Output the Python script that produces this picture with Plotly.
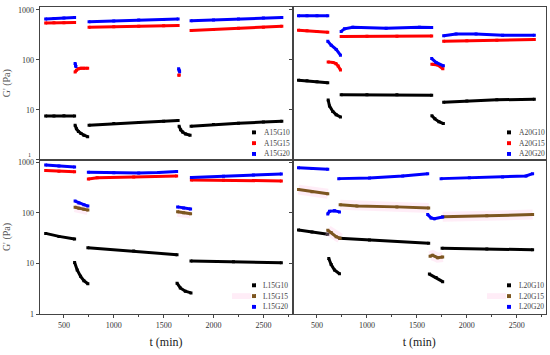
import plotly.graph_objects as go

# ---------------- data (t in min, G' in Pa); None separates test segments ----------------
A15G10_t = [317, 400, 500, 607, None, 612, 625, 645, 670, 700, 738, None, 752, 1000, 1250, 1500, 1645, None, 1655, 1670, 1690, 1720, 1765, None, 1775, 2000, 2250, 2500, 2685]
A15G10 = [7.5, 7.5, 7.6, 7.5, None, 4.9, 4.2, 3.7, 3.35, 3.1, 2.9, None, 4.9, 5.3, 5.6, 5.9, 6.1, None, 4.7, 4.0, 3.6, 3.3, 3.1, None, 4.7, 5.1, 5.4, 5.7, 5.9]
A15G15_t = [317, 400, 500, 607, None, 612, 625, 645, 670, 700, 738, None, 752, 1000, 1250, 1500, 1645, None, 1652, 1656, None, 1775, 2000, 2250, 2500, 2685]
A15G15 = [545, 550, 555, 560, None, 57, 62, 66, 68, 68, 68, None, 450, 460, 470, 480, 487, None, 49, 50, None, 385, 405, 430, 450, 470]
A15G20_t = [317, 400, 500, 607, None, 612, 616, 620, None, 752, 1000, 1250, 1500, 1645, None, 1650, 1655, 1660, None, 1775, 2000, 2250, 2500, 2685]
A15G20 = [660, 675, 690, 700, None, 85, 78, 74, None, 575, 600, 625, 645, 660, None, 66, 62, 58, None, 605, 630, 655, 685, 705]

A20G10_t = [315, 400, 500, 608, None, 612, 625, 658, 692, 735, None, 742, 1000, 1300, 1648, None, 1650, 1680, 1720, 1765, None, 1768, 2000, 2300, 2675]
A20G10 = [39, 38, 36.5, 35, None, 15.7, 12, 9.3, 8.0, 7.2, None, 20, 20, 20, 19.6, None, 7.6, 6.6, 5.8, 5.3, None, 14.2, 15.1, 15.9, 16.2]
A20G15_t = [315, 400, 500, 608, None, 612, 660, 690, 712, 735, None, 742, 1000, 1300, 1648, None, 1650, 1710, 1760, None, 1768, 2000, 2300, 2675]
A20G15 = [390, 380, 370, 358, None, 91, 89, 84, 75, 63, None, 292, 295, 298, 300, None, 82, 79, 66, None, 236, 242, 248, 255]
A20G20_t = [315, 400, 500, 608, None, 608, 642, 692, 735, None, 742, 775, 858, 1192, 1525, 1648, None, 1648, 1692, 1765, None, 1768, 1892, 2092, 2358, 2675]
A20G20 = [760, 760, 760, 760, None, 236, 197, 162, 124, None, 371, 417, 450, 430, 450, 443, None, 106, 89, 76, None, 305, 328, 328, 309, 309]

L15G10_t = [317, 450, 607, None, 607, 633, 667, 700, 740, None, 740, 1200, 1634, None, 1634, 1667, 1717, 1774, None, 1774, 2200, 2680]
L15G10 = [39.5, 34.5, 30.6, None, 10.5, 7.5, 5.6, 4.6, 4.0, None, 20.5, 17.7, 15.0, None, 4.1, 3.3, 2.85, 2.64, None, 11.2, 10.9, 10.4]
L15G15_t = [317, 450, 607, None, 612, 650, 700, 740, None, 745, 833, 1200, 1630, None, 1640, 1700, 1770, None, 1778, 2100, 2400, 2680]
L15G15 = [690, 670, 650, None, 130, 124, 118, 114, None, 470, 495, 515, 535, None, 106, 101, 97, None, 450, 445, 440, 430]
L15G20_t = [317, 450, 607, None, 612, 650, 700, 740, None, 745, 1000, 1250, 1450, 1630, None, 1640, 1700, 1770, None, 1778, 2100, 2400, 2680]
L15G20 = [890, 850, 810, None, 172, 158, 146, 137, None, 640, 620, 615, 630, 660, None, 132, 125, 120, None, 500, 530, 560, 590]

L20G10_t = [315, 450, 608, None, 618, 642, 675, 725, None, 725, 1025, 1618, None, 1625, 1692, 1758, None, 1752, 2200, 2658]
L20G10 = [46, 42, 38, None, 12.6, 9.6, 7.5, 6.3, None, 31.6, 29.2, 25.3, None, 6.2, 5.3, 4.4, None, 20, 19.5, 18.8]
L20G15_t = [315, 450, 608, None, 608, 642, 692, 732, None, 732, 900, 1300, 1618, None, 1632, 1658, 1708, 1758, None, 1758, 2200, 2658]
L20G15 = [290, 262, 240, None, 45.7, 41, 34, 31.6, None, 145, 138, 132, 126, None, 14, 14.6, 13.1, 13.5, None, 84, 88, 93]
L20G20_t = [315, 450, 608, None, 608, 625, 675, 725, None, 718, 1025, 1358, 1608, None, 1608, 1642, 1675, 1758, None, 1742, 2025, 2358, 2592, 2658]
L20G20 = [780, 755, 730, None, 96, 108, 111, 105, None, 477, 492, 538, 597, None, 93, 80, 77, 83, None, 477, 499, 515, 538, 597]

x_ticks = [500, 1000, 1500, 2000, 2500]
y_ticks = [1, 10, 100, 1000]

BLACK, RED, BLUE, BROWN = "#000000", "#ff0000", "#0000ff", "#7d5620"
PINK = "rgba(255,195,230,0.3)"

panels = [
    ("x", "y", [("A15G10", A15G10_t, A15G10, [BLACK]), ("A15G15", A15G15_t, A15G15, [RED]), ("A15G20", A15G20_t, A15G20, [BLUE])]),
    ("x2", "y2", [("A20G10", A20G10_t, A20G10, [BLACK]), ("A20G15", A20G15_t, A20G15, [RED]), ("A20G20", A20G20_t, A20G20, [BLUE])]),
    ("x3", "y3", [("L15G10", L15G10_t, L15G10, [BLACK]), ("L15G15", L15G15_t, L15G15, [RED, BROWN, RED, BROWN, RED]), ("L15G20", L15G20_t, L15G20, [BLUE])]),
    ("x4", "y4", [("L20G10", L20G10_t, L20G10, [BLACK]), ("L20G15", L20G15_t, L20G15, [BROWN]), ("L20G20", L20G20_t, L20G20, [BLUE])]),
]


def split(ts, vs):
    segs, ct, cv = [], [], []
    for t, v in zip(ts, vs):
        if t is None:
            segs.append((ct, cv)); ct, cv = [], []
        else:
            ct.append(t); cv.append(v)
    segs.append((ct, cv))
    return segs


fig = go.Figure()
for xa, ya, series in panels:
    for name, ts, vs, cols in series:
        segs = split(ts, vs)
        for i, (st, sv) in enumerate(segs):
            col = cols[i % len(cols)]
            if col == BROWN:
                fig.add_trace(go.Scatter(x=st, y=sv, xaxis=xa, yaxis=ya, mode="lines",
                                         line=dict(color=PINK, width=10), showlegend=False, hoverinfo="skip"))
            fig.add_trace(go.Scatter(x=st, y=sv, xaxis=xa, yaxis=ya, mode="lines+markers",
                                     line=dict(color=col, width=3), marker=dict(color=col, size=3, symbol="square"),
                                     name=name, showlegend=False))

TICKFONT = dict(family="Liberation Serif", size=8, color="#333333")
LINEC = "#444444"
xL = [39.5 / 550, 292.5 / 550]
xR = [292.5 / 550, 546 / 550]
yT = [1 - 161 / 355, 1 - 4.7 / 355]
yB = [1 - 318.5 / 355, 1 - 161 / 355]
XR = [255, 2792]


def xax(dom, anchor, bottom):
    d = dict(domain=dom, anchor=anchor, range=XR, showline=True, mirror=True, linecolor=LINEC, linewidth=1,
             showgrid=False, zeroline=False, tickvals=x_ticks, tickfont=TICKFONT)
    if bottom:
        d.update(ticks="outside", ticklen=3, tickcolor=LINEC,
                 minor=dict(tickvals=[750, 1250, 1750, 2250, 2750], ticks="outside", ticklen=2, tickcolor=LINEC),
                 title=dict(text="t (min)", font=dict(family="Liberation Serif", size=12, color="#222222"), standoff=8))
    else:
        d.update(showticklabels=False, ticks="")
    return d


def yax(dom, anchor, labels, rng, text):
    d = dict(domain=dom, anchor=anchor, type="log", range=rng, showline=True, mirror=True, linecolor=LINEC,
             linewidth=1, showgrid=False, zeroline=False, tickvals=y_ticks, ticktext=text,
             ticks="outside", ticklen=3, tickcolor=LINEC, tickfont=TICKFONT, showticklabels=labels)
    if labels:
        d["title"] = dict(text="G' (Pa)", font=dict(family="Liberation Serif", size=10, color="#555555"), standoff=5)
    return d


top_text = ["", "10", "100", "1000"]
bot_text = ["1", "10", "100", "1000"]
fig.update_layout(
    width=550, height=355, margin=dict(l=0, r=0, t=0, b=0),
    paper_bgcolor="white", plot_bgcolor="white", showlegend=False,
    xaxis=xax(xL, "y", False), yaxis=yax(yT, "x", True, [0, 3.065], top_text),
    xaxis2=xax(xR, "y2", False), yaxis2=yax(yT, "x2", False, [0, 3.065], top_text),
    xaxis3=xax(xL, "y3", True), yaxis3=yax(yB, "x3", True, [0, 3.05], bot_text),
    xaxis4=xax(xR, "y4", True), yaxis4=yax(yB, "x4", False, [0, 3.05], bot_text),
)

# the top-left panel's "1" label, squeezed just above the bottom panel's "1000"
fig.add_annotation(text="1", xref="paper", yref="paper", x=33 / 550, y=1 - 156 / 355,
                   xanchor="right", yanchor="middle", showarrow=False,
                   font=dict(family="Liberation Serif", size=6, color="#333333"))

# custom legends (marker squares + real text), positioned in pixels of the 550x355 page
legend_pos = [(254, 262, [133, 144, 155]), (509, 517, [133, 144, 155]),
              (254, 261, [289, 300, 311]), (509, 517, [289, 300, 311])]
for (mx, tx, ys), (_, _, series) in zip(legend_pos, panels):
    for yy, (name, _, _, cols) in zip(ys, series):
        col = cols[1] if len(cols) > 1 else cols[0]
        if col == BROWN:
            fig.add_shape(type="rect", xref="paper", yref="paper", x0=(mx - 22) / 550, x1=(mx - 3) / 550,
                          y0=1 - (yy + 3) / 355, y1=1 - (yy - 3) / 355, fillcolor=PINK, line_width=0, layer="below")
        fig.add_shape(type="rect", xref="paper", yref="paper", x0=(mx - 2) / 550, x1=(mx + 2) / 550,
                      y0=1 - (yy + 2) / 355, y1=1 - (yy - 2) / 355, fillcolor=col, line_width=0)
        fig.add_annotation(text=name, xref="paper", yref="paper", x=tx / 550, y=1 - yy / 355,
                           xanchor="left", yanchor="middle", showarrow=False,
                           font=dict(family="Liberation Serif", size=7.5, color="#444444"))

fig.write_html("out.html", config={"displayModeBar": False},
               post_script="document.body.style.margin='0';")
